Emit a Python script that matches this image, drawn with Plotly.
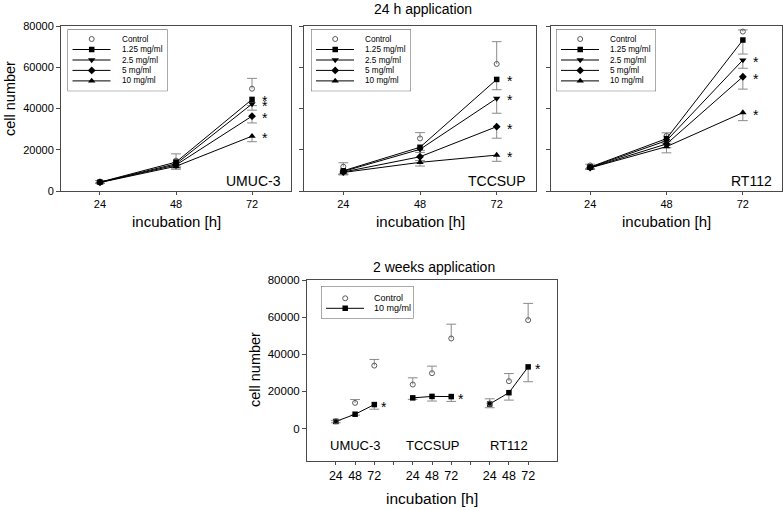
import plotly.graph_objects as go

# incubation times and groups
HOURS = [24, 48, 72]
CONCENTRATIONS = ["Control", "1.25 mg/ml", "2.5 mg/ml", "5 mg/ml", "10 mg/ml"]
CELL_LINES = ["UMUC-3", "TCCSUP", "RT112"]

# 24 h application: one row per concentration (Control first), columns = HOURS
UMUC3_MEANS = [
    [4500, 14700, 49600],
    [4300, 14000, 44400],
    [4200, 13200, 42200],
    [4200, 12600, 36300],
    [4100, 12000, 26600],
]
UMUC3_SD = [
    [600, 3300, 5000],
    [500, 2000, 3000],
    [500, 1800, 3000],
    [500, 1500, 3300],
    [400, 1500, 2700],
]
TCCSUP_MEANS = [
    [11800, 25500, 61600],
    [9800, 21200, 54100],
    [9500, 20200, 44900],
    [9200, 16600, 31200],
    [9000, 13900, 17400],
]
TCCSUP_SD = [
    [1900, 2800, 10800],
    [1500, 1500, 5000],
    [1500, 1500, 7200],
    [1200, 1800, 5600],
    [1200, 1800, 3000],
]
RT112_MEANS = [
    [12400, 26700, 77300],
    [11600, 25400, 73200],
    [11400, 24400, 63500],
    [11300, 22800, 55400],
    [11200, 21500, 38000],
]
RT112_SD = [
    [600, 1500, 800],
    [800, 1500, 6800],
    [700, 1500, 4000],
    [700, 1800, 6000],
    [700, 3000, 3900],
]
# which concentrations carry an asterisk at 72 h
STARRED_24H = [[1, 2, 3, 4], [1, 2, 3, 4], [2, 3, 4]]

# 2 weeks application: one row per cell line, columns = HOURS
LONG_CONTROL = [[3900, 13800, 33900], [23700, 29800, 48500], [13500, 25500, 58400]]
LONG_CONTROL_SD = [[500, 1800, 3300], [3600, 3800, 7700], [2500, 4100, 9000]]
LONG_TREATED = [[3800, 7700, 12900], [16500, 17300, 17200], [13200, 19300, 33200]]
LONG_TREATED_SD = [[700, 500, 2500], [800, 2500, 2600], [2000, 4000, 8000]]

W, H = 784, 510
FONT = "Arial, Liberation Sans, sans-serif"
AXIS_COLOR = "#4a4a4a"
ERR_COLOR = "#8a8a8a"
CONTROL_COLOR = "#5a5a5a"

TOP_X = [(61, 291), (304, 536), (551, 782)]
TOP_Y = (26, 191)
BOTTOM_X = (307, 557)
BOTTOM_Y = (280, 461)

SYMBOLS = ["circle-open", "square", "triangle-down", "diamond", "triangle-up"]
SIZES = [5, 5.5, 6.5, 6, 6.5]


def xdom(x0, x1):
    return [x0 / W, x1 / W]


def ydom(y0, y1):
    return [1 - y1 / H, 1 - y0 / H]


def refs(n):
    suffix = "" if n == 1 else str(n)
    return f"x{suffix}", f"y{suffix}", f"xaxis{suffix}", f"yaxis{suffix}"


def marker(i):
    if i == 0:
        return dict(symbol=SYMBOLS[0], size=SIZES[0], color=CONTROL_COLOR,
                    line=dict(width=1, color=CONTROL_COLOR))
    return dict(symbol=SYMBOLS[i], size=SIZES[i], color="black")


def add_error(fig, x, y, err, up, xa, ya):
    # one-sided error bar: cap drawn as a marker, stem via error_y
    cap_y = [v + e if up else v - e for v, e in zip(y, err)]
    fig.add_trace(go.Scatter(
        x=x, y=cap_y, xaxis=xa, yaxis=ya, mode="markers",
        marker=dict(symbol="line-ew", size=7, color=ERR_COLOR,
                    line=dict(width=1, color=ERR_COLOR)),
        error_y=dict(type="data", symmetric=False,
                     array=[0 if up else e for e in err],
                     arrayminus=[e if up else 0 for e in err],
                     width=0, thickness=1, color=ERR_COLOR),
        showlegend=False, hoverinfo="skip",
    ))


def axis_common():
    return dict(showline=True, mirror=True, linecolor=AXIS_COLOR, linewidth=1,
                showgrid=False, zeroline=False, ticks="outside",
                tickcolor=AXIS_COLOR, tickwidth=1)


fig = go.Figure()
annotations = []
shapes = []
layout = {}

# ---- 24 h application panels
panels = [
    (UMUC3_MEANS, UMUC3_SD),
    (TCCSUP_MEANS, TCCSUP_SD),
    (RT112_MEANS, RT112_SD),
]
for p, (means, sds) in enumerate(panels):
    xa, ya, xkey, ykey = refs(p + 1)
    for i, (m, s) in enumerate(zip(means, sds)):
        add_error(fig, HOURS, m, s, i == 0, xa, ya)
    for i, m in enumerate(means):
        fig.add_trace(go.Scatter(
            x=HOURS, y=m, xaxis=xa, yaxis=ya,
            mode="markers" if i == 0 else "lines+markers",
            line=dict(color="black", width=1),
            marker=marker(i), name=CONCENTRATIONS[i], showlegend=False,
        ))
    for i in STARRED_24H[p]:
        annotations.append(dict(
            x=HOURS[-1], y=means[i][-1], xref=xa, yref=ya, text="*",
            showarrow=False, xshift=13, yshift=-2, font=dict(size=14, color="black"),
        ))
    annotations.append(dict(
        x=1, y=0, xref=f"{xa} domain", yref=f"{ya} domain", text=CELL_LINES[p],
        showarrow=False, xanchor="right", yanchor="middle", xshift=-8, yshift=10,
        font=dict(size=14, color="black"),
    ))
    layout[xkey] = dict(
        axis_common(), domain=xdom(*TOP_X[p]), range=[11.7, 84.3],
        tickvals=HOURS, ticklen=3, tickfont=dict(size=11), anchor=ya,
    )
    layout[ykey] = dict(
        axis_common(), domain=ydom(*TOP_Y), range=[0, 80000],
        tickvals=[0, 20000, 40000, 60000, 80000], tickformat="d", ticklen=4,
        showticklabels=(p == 0), tickfont=dict(size=11), anchor=xa,
    )
    annotations.append(dict(
        x=sum(TOP_X[p]) / 2 / W, y=1 - 221 / H, xref="paper", yref="paper",
        text="incubation [h]", showarrow=False, xanchor="center", yanchor="middle",
        font=dict(size=15, color="black"),
    ))

# ---- 2 weeks application panel
xa, ya, xkey, ykey = refs(4)
group_x = [[g * 4 + k for k in range(len(HOURS))] for g in range(len(CELL_LINES))]
for g in range(len(CELL_LINES)):
    add_error(fig, group_x[g], LONG_CONTROL[g], LONG_CONTROL_SD[g], True, xa, ya)
    add_error(fig, group_x[g], LONG_TREATED[g], LONG_TREATED_SD[g], False, xa, ya)
for g in range(len(CELL_LINES)):
    fig.add_trace(go.Scatter(
        x=group_x[g], y=LONG_TREATED[g], xaxis=xa, yaxis=ya, mode="lines+markers",
        line=dict(color="black", width=1), marker=marker(1), showlegend=False,
    ))
    fig.add_trace(go.Scatter(
        x=group_x[g], y=LONG_CONTROL[g], xaxis=xa, yaxis=ya, mode="markers",
        marker=marker(0), showlegend=False,
    ))
    annotations.append(dict(
        x=group_x[g][-1], y=LONG_TREATED[g][-1], xref=xa, yref=ya, text="*",
        showarrow=False, xshift=10, yshift=-2, font=dict(size=14, color="black"),
    ))
    annotations.append(dict(
        x=group_x[g][1], y=-9000, xref=xa, yref=ya, text=CELL_LINES[g],
        showarrow=False, font=dict(size=13, color="black"),
    ))

tick_vals = list(range(group_x[-1][-1] + 1))
tick_text = []
for v in tick_vals:
    tick_text.append(str(HOURS[v % 4]) if v % 4 < len(HOURS) else "")
layout[xkey] = dict(
    axis_common(), domain=xdom(*BOTTOM_X), range=[-1.5, 11.5],
    tickvals=tick_vals, ticktext=tick_text, ticklen=3,
    tickfont=dict(size=12.5), anchor=ya,
)
layout[ykey] = dict(
    axis_common(), domain=ydom(*BOTTOM_Y), range=[-17500, 80000],
    tickvals=[0, 20000, 40000, 60000, 80000], tickformat="d", ticklen=4,
    tickfont=dict(size=11.5), anchor=xa,
)

# ---- hand-drawn legend boxes on hidden overlay axes (pixel units)
TOP_LEGENDS = [(67.5, 29.3), (311, 29.3), (556, 29.3)]
LEG_W, LEG_H = 100, 62
LEG_ROWS = [9.7, 20.2, 30.7, 41.1, 51.6]
BOTTOM_LEGEND = (321, 286)
BLEG_W, BLEG_H = 92.5, 32.5
BLEG_ROWS = [12.3, 22.3]


def add_legend(n, left, top, w, h, rows, items, font_size, text_x):
    xa, ya, xkey, ykey = refs(n)
    layout[xkey] = dict(domain=xdom(left, left + w), range=[0, w],
                        visible=False, anchor=ya, fixedrange=True)
    layout[ykey] = dict(domain=ydom(top, top + h), range=[h, 0],
                        visible=False, anchor=xa, fixedrange=True)
    shapes.append(dict(type="rect", xref=xa, yref=ya, x0=0, x1=w, y0=0, y1=h,
                       line=dict(color="#555555", width=1)))
    for row, (label, sym) in zip(rows, items):
        if sym != 0:
            fig.add_trace(go.Scatter(
                x=[5, 43], y=[row, row], xaxis=xa, yaxis=ya, mode="lines",
                line=dict(color="black", width=1), showlegend=False, hoverinfo="skip",
            ))
        fig.add_trace(go.Scatter(
            x=[24.2], y=[row], xaxis=xa, yaxis=ya, mode="markers",
            marker=marker(sym), showlegend=False, hoverinfo="skip",
        ))
        annotations.append(dict(
            x=text_x, y=row, xref=xa, yref=ya, text=label,
            showarrow=False, xanchor="left", yanchor="middle",
            font=dict(size=font_size, color="black"),
        ))


top_items = [(c, i) for i, c in enumerate(CONCENTRATIONS)]
for p, (left, top) in enumerate(TOP_LEGENDS):
    add_legend(5 + p, left, top, LEG_W, LEG_H, LEG_ROWS, top_items, 8.2, 52)
add_legend(8, *BOTTOM_LEGEND, BLEG_W, BLEG_H, BLEG_ROWS,
           [(CONCENTRATIONS[0], 0), (CONCENTRATIONS[-1], 1)], 9, 51)

# ---- titles
for text, x, y, size, angle in [
    ("24 h application", 423, 9, 14, 0),
    ("2 weeks application", 434, 267, 14, 0),
    ("cell number", 10, 99, 14.5, -90),
    ("cell number", 255, 370, 14.5, -90),
    ("incubation [h]", 432, 498, 15.5, 0),
]:
    annotations.append(dict(
        x=x / W, y=1 - y / H, xref="paper", yref="paper", text=text,
        showarrow=False, xanchor="center", yanchor="middle", textangle=angle,
        font=dict(size=size, color="black"),
    ))

fig.update_layout(
    template="none",
    width=W,
    height=H,
    margin=dict(l=0, r=0, t=0, b=0),
    paper_bgcolor="white",
    plot_bgcolor="white",
    font=dict(family=FONT, color="black"),
    showlegend=False,
    hovermode=False,
    annotations=annotations,
    shapes=shapes,
    **layout,
)

# the page body has a default 8px margin; drop it so the figure fills the window
fig.write_html(
    "out.html",
    config={"displayModeBar": False},
    post_script="document.body.style.margin = '0';",
)
